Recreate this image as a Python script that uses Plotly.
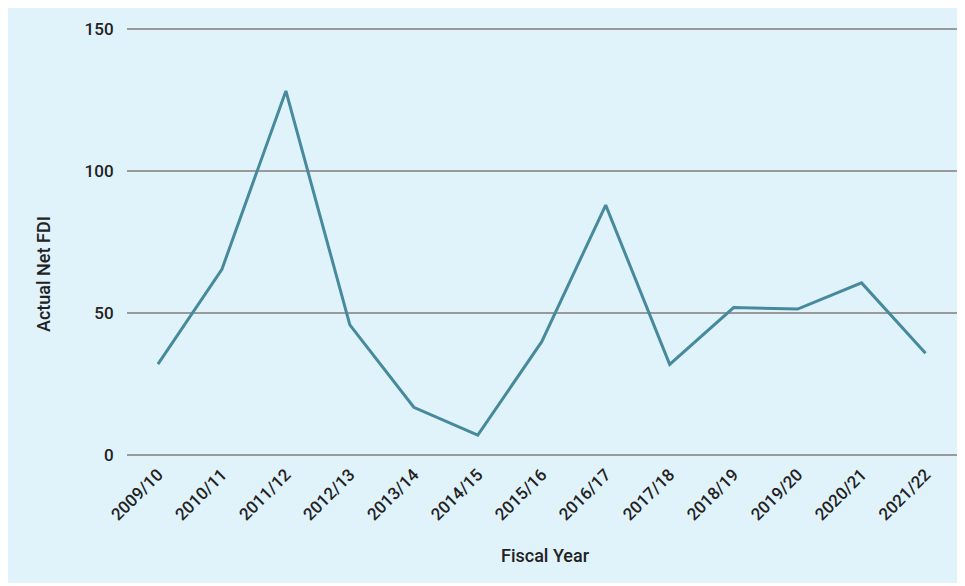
import plotly.graph_objects as go

fiscal_years = ["2009/10", "2010/11", "2011/12", "2012/13", "2013/14", "2014/15",
                "2015/16", "2016/17", "2017/18", "2018/19", "2019/20", "2020/21", "2021/22"]
net_fdi = [32.0, 65.4, 128.2, 45.8, 16.8, 7.0, 39.9, 88.0, 31.9, 51.9, 51.4, 60.6, 35.8]
y_ticks = [0, 50, 100, 150]

LINE = "#478a9c"
BG = "#e0f3fb"
TXT = "#222222"
FONT = "Roboto"

fig = go.Figure()
fig.add_trace(go.Scatter(x=fiscal_years, y=net_fdi, mode="lines",
                         line=dict(color=LINE, width=3), hoverinfo="skip"))

# page has an 8px body margin: figure pixel = reference pixel - 8
OFF = 8
W, H = 965 - OFF, 586 - OFF
L, R, T, B = 127 - OFF, 3, 18, H - (455 - OFF)
pw, ph = W - L - R, H - T - B
ytop = 150 + (29 - OFF - T) / 2.84

def px_x(p):
    return (p - OFF - L) / pw

def px_y(p):
    return (H - B - (p - OFF)) / ph

fig.add_shape(type="rect", xref="paper", yref="paper",
              x0=px_x(0), x1=px_x(975), y0=px_y(583), y1=px_y(0),
              fillcolor=BG, line=dict(width=0), layer="below")

tfont = dict(family=FONT, size=17, color=TXT, weight=500)
afont = dict(family=FONT, size=18, color=TXT, weight=500)

fig.update_layout(
    width=W, height=H,
    margin=dict(l=L, r=R, t=T, b=B, pad=0),
    paper_bgcolor="white",
    plot_bgcolor="rgba(0,0,0,0)",
    showlegend=False,
    font=tfont,
    xaxis=dict(type="category", range=[-0.484, 12.57], showgrid=False,
               zeroline=False, showline=False, tickangle=-45,
               ticks="outside", ticklen=2, tickcolor="rgba(0,0,0,0)",
               tickfont=tfont),
    yaxis=dict(range=[0, ytop], tickvals=y_ticks, showgrid=True,
               gridcolor="#9a9a9a", gridwidth=1.5, zeroline=True,
               zerolinecolor="#9a9a9a", zerolinewidth=1.5, showline=False,
               ticks="outside", ticklen=9, tickcolor="rgba(0,0,0,0)",
               tickfont=tfont),
    annotations=[
        dict(text="Fiscal Year", xref="paper", yref="paper", x=px_x(545), y=px_y(555),
             showarrow=False, font=afont, xanchor="center", yanchor="middle"),
        dict(text="Actual Net FDI", xref="paper", yref="paper", x=px_x(43), y=px_y(274),
             showarrow=False, textangle=-90, font=afont,
             xanchor="center", yanchor="middle"),
    ],
)

fig.write_html("out.html")
